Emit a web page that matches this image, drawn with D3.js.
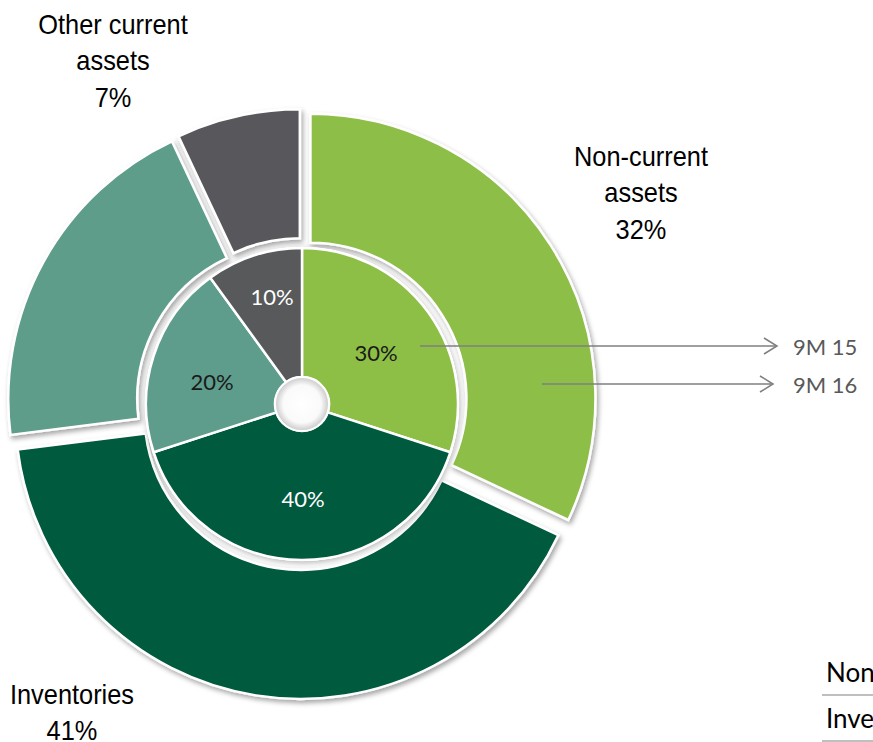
<!DOCTYPE html>
<html>
<head>
<meta charset="utf-8">
<script src="https://cdn.jsdelivr.net/npm/d3@7"></script>
<style>
  html, body { margin: 0; padding: 0; background: #fff; overflow: hidden; }
  svg { display: block; }
</style>
</head>
<body>
<svg id="chart" width="873" height="742"></svg>
<script>
// Balance sheet structure: inner ring 9M 15, outer ring 9M 16
const categories = ["Non-current assets", "Inventories", "Receivables and cash", "Other current assets"];
const values9M15 = [30, 40, 20, 10];
const values9M16 = [32, 41, 20, 7];
const colors = ["#8DBE46", "#005A3E", "#5E9D8B", "#58595B"];
const innerLabelColors = ["#1a1a1a", "#ffffff", "#1a1a1a", "#ffffff"];
const seriesNames = ["9M 15", "9M 16"];
// Outer-ring labels (the third category has none)
const outerLabels = [
  { lines: ["Non-current", "assets", "32%"], x: 641, y: 166 },
  { lines: ["Inventories", "41%"], x: 72, y: 704 },
  null,
  { lines: ["Other current", "assets", "7%"], x: 113, y: 34 }
];
const tableRows = ["Non-current assets", "Inventories"];

const svg = d3.select("#chart");
const cx = 302, cy = 404;
const holeR = 27, innerR = 156, outerR = 285, explode = 10;

// Filters and gradients
const defs = svg.append("defs");
const sh = defs.append("filter").attr("id", "shadow")
  .attr("x", "-20%").attr("y", "-20%").attr("width", "140%").attr("height", "140%");
sh.append("feDropShadow").attr("dx", 2).attr("dy", 3).attr("stdDeviation", 2.5)
  .attr("flood-color", "#000").attr("flood-opacity", 0.35);
const sh2 = defs.append("filter").attr("id", "halo")
  .attr("x", "-20%").attr("y", "-20%").attr("width", "140%").attr("height", "140%");
sh2.append("feDropShadow").attr("dx", 1).attr("dy", 2).attr("stdDeviation", 3)
  .attr("flood-color", "#000").attr("flood-opacity", 0.3);
const hg = defs.append("radialGradient").attr("id", "holeGrad")
  .attr("cx", "50%").attr("cy", "50%").attr("r", "50%");
hg.append("stop").attr("offset", "0%").attr("stop-color", "#ffffff");
hg.append("stop").attr("offset", "70%").attr("stop-color", "#fafafa");
hg.append("stop").attr("offset", "100%").attr("stop-color", "#c9c9c9");

const pie = d3.pie().sort(null).value(d => d);
const g = svg.append("g").attr("transform", `translate(${cx},${cy})`);

// Outer ring (9M 16), exploded slices
const outerArc = d3.arc().innerRadius(innerR).outerRadius(outerR);
g.append("g").selectAll("path")
  .data(pie(values9M16))
  .join("path")
  .attr("transform", d => {
    const m = (d.startAngle + d.endAngle) / 2;
    return `translate(${Math.sin(m) * explode},${-Math.cos(m) * explode})`;
  })
  .attr("d", outerArc)
  .attr("fill", (d, i) => colors[i])
  .attr("stroke", "#fff")
  .attr("stroke-width", 2.5)
  .attr("stroke-linejoin", "miter")
  .attr("filter", "url(#shadow)");

// Inner ring (9M 15)
const innerArc = d3.arc().innerRadius(holeR).outerRadius(innerR);
const innerG = g.append("g");
innerG.append("circle").attr("r", innerR + 1).attr("fill", "#fff").attr("filter", "url(#halo)");
innerG.selectAll("path")
  .data(pie(values9M15))
  .join("path")
  .attr("d", innerArc)
  .attr("fill", (d, i) => colors[i])
  .attr("stroke", "#fff")
  .attr("stroke-width", 2.5);

// Centre hole
g.append("circle").attr("r", holeR).attr("fill", "url(#holeGrad)")
  .attr("stroke", "#fff").attr("stroke-width", 2);

// Inner percentage labels
const innerLabelPos = [[74, -52], [1, 94], [-90, -23], [-30, -108]];
g.append("g").selectAll("text")
  .data(pie(values9M15))
  .join("text")
  .attr("x", (d, i) => innerLabelPos[i][0])
  .attr("y", (d, i) => innerLabelPos[i][1])
  .attr("text-anchor", "middle")
  .attr("dominant-baseline", "central")
  .attr("font-family", "Lato, 'Open Sans', sans-serif")
  .attr("font-size", 22)
  .attr("fill", (d, i) => innerLabelColors[i])
  .text(d => d.data + "%");

// Outer ring category labels (slightly condensed sans)
const lblG = svg.append("g")
  .attr("font-family", "'Liberation Sans', Arial, sans-serif")
  .attr("font-size", 27)
  .attr("fill", "#000")
  .attr("text-anchor", "middle");
outerLabels.forEach(l => {
  if (!l) return;
  const t = lblG.append("text")
    .attr("transform", `translate(${l.x},${l.y}) scale(0.94,1)`);
  l.lines.forEach((line, k) => {
    t.append("tspan").attr("x", 0).attr("y", k * 36.5).text(line);
  });
});

// Series pointers
const pointers = [
  { name: seriesNames[0], x1: 420, x2: 777, y: 346 },
  { name: seriesNames[1], x1: 542, x2: 773, y: 384 }
];
const pg = svg.append("g");
pointers.forEach(p => {
  pg.append("line").attr("x1", p.x1).attr("x2", p.x2).attr("y1", p.y).attr("y2", p.y)
    .attr("stroke", "#7f7f7f").attr("stroke-width", 1.5);
  pg.append("path")
    .attr("d", `M${p.x2 - 13},${p.y - 8}L${p.x2},${p.y}L${p.x2 - 13},${p.y + 8}`)
    .attr("fill", "none").attr("stroke", "#7f7f7f").attr("stroke-width", 1.5);
  pg.append("text").attr("x", 793).attr("y", p.y).attr("dominant-baseline", "central")
    .attr("font-family", "Lato, 'Open Sans', sans-serif").attr("font-size", 22)
    .attr("fill", "#595959").text(p.name);
});

// Data table fragment at the lower right
const tg = svg.append("g");
tableRows.forEach((r, i) => {
  const y0 = 650 + i * 46;
  tg.append("text").attr("x", 826).attr("y", y0 + 32)
    .attr("font-family", "Lato, 'Open Sans', sans-serif").attr("font-size", 26)
    .attr("fill", "#000").text(r);
  tg.append("line").attr("x1", 822).attr("x2", 873).attr("y1", y0 + 45).attr("y2", y0 + 45)
    .attr("stroke", "#bfbfbf").attr("stroke-width", 2);
});
</script>
</body>
</html>
